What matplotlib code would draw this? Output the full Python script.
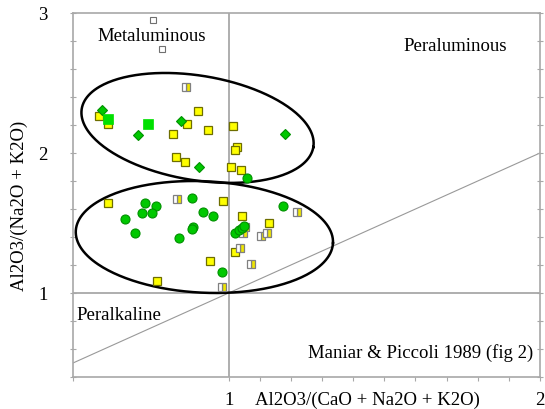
import matplotlib
matplotlib.use("Agg")
import matplotlib.pyplot as plt
import numpy as np

plt.rcParams['font.family'] = ['Liberation Serif', 'DejaVu Serif']

# yellow squares
yel_x = [0.584, 0.611, 0.820, 0.866, 0.831, 0.861, 0.903, 0.933, 1.015, 1.026,
         1.019, 1.008, 1.039, 0.614, 0.982, 1.044, 1.128, 1.021, 0.939, 0.771]
yel_y = [2.264, 2.205, 2.134, 2.206, 1.969, 1.934, 2.300, 2.163, 2.193, 2.046,
         2.021, 1.898, 1.879, 1.645, 1.657, 1.552, 1.502, 1.291, 1.226, 1.088]

# half yellow / white squares
half_x = [0.864, 0.833, 1.221, 1.045, 1.053, 1.105, 1.123, 1.037, 1.072, 0.977]
half_y = [2.469, 1.671, 1.576, 1.431, 1.474, 1.407, 1.426, 1.319, 1.207, 1.045]

# hollow squares
hol_x = [0.756, 0.785]
hol_y = [2.950, 2.743]

# green diamonds
dia_x = [0.593, 0.710, 0.848, 1.182, 0.904]
dia_y = [2.304, 2.131, 2.229, 2.138, 1.898]

# green squares
gsq_x = [0.611, 0.741]
gsq_y = [2.243, 2.205]

# green circles
cir_x = [1.059, 0.730, 0.765, 0.755, 0.723, 0.668, 0.700, 0.883, 0.916, 0.949,
         0.887, 0.881, 0.842, 1.176, 1.021, 1.032, 1.043, 1.048, 0.977]
cir_y = [1.824, 1.645, 1.618, 1.574, 1.569, 1.526, 1.426, 1.682, 1.579, 1.550,
         1.469, 1.457, 1.391, 1.621, 1.431, 1.450, 1.466, 1.479, 1.150]

xmin, xmax = 0.5, 2.0
ymin, ymax = 0.4, 3.0

fig = plt.figure(figsize=(5.45, 4.09), dpi=100)
ax = fig.add_axes([73 / 545, 32 / 409, 467 / 545, 364 / 409])
ax.set_xlim(xmin, xmax)
ax.set_ylim(ymin, ymax)

gray = '#a8a8a8'
for s in ax.spines.values():
    s.set_color(gray)
    s.set_linewidth(1.2)

# reference lines
ax.axvline(1, color=gray, lw=1.3, zorder=1)
ax.axhline(1, color=gray, lw=1.3, zorder=1)
ax.plot([xmin, xmax], [xmin, xmax], color='#999999', lw=0.8, zorder=1)

# ellipses (center x, center y, semi axes in x / y units, angle on screen)
W = fig.get_size_inches()[0] * fig.dpi * 467 / 545
H = fig.get_size_inches()[1] * fig.dpi * 364 / 409
sx = W / (xmax - xmin)
sy = H / (ymax - ymin)
t = np.linspace(0, 2 * np.pi, 300)
for cx, cy, ra, rb, ang in [(0.900, 2.179, 0.377, 0.373, -9.4),
                            (0.922, 1.400, 0.4135, 0.398, -2.7)]:
    th = np.radians(ang)
    u = ra * sx * np.cos(t)
    v = rb * sy * np.sin(t)
    X = u * np.cos(th) - v * np.sin(th)
    Y = u * np.sin(th) + v * np.cos(th)
    ax.plot(cx + X / sx, cy + Y / sy, color='black', lw=1.8, zorder=2)

ax.plot(yel_x, yel_y, 's', ms=6, mfc='#ffff00', mec='#6e6e00', mew=0.9, ls='none', zorder=3)
ax.plot(half_x, half_y, 's', ms=6, mfc='#f0e600', mfcalt='white', fillstyle='right',
        mec='#808080', mew=0.9, ls='none', zorder=3)
ax.plot(hol_x, hol_y, 's', ms=5, mfc='white', mec='#707070', mew=0.8, ls='none', zorder=3)
ax.plot(dia_x, dia_y, 'D', ms=5.5, mfc='#00c800', mec='#009000', mew=0.8, ls='none', zorder=3)
ax.plot(gsq_x, gsq_y, 's', ms=6.5, mfc='#00e000', mec='#00e000', mew=0.5, ls='none', zorder=3)
ax.plot(cir_x, cir_y, 'o', ms=6.5, mfc='#00c800', mec='#009000', mew=0.8, ls='none', zorder=3)

fs = 13.5
ax.text(0.577, 2.83, 'Metaluminous', fontsize=fs, va='center')
ax.text(1.561, 2.764, 'Peraluminous', fontsize=fs, va='center')
ax.text(0.51, 0.836, 'Peralkaline', fontsize=fs, va='center')
ax.text(1.979, 0.571, 'Maniar & Piccoli 1989 (fig 2)', fontsize=fs, va='center', ha='right')

xt = [0.5] + list(np.round(np.arange(1.0, 2.01, 0.1), 1))
ax.set_xticks(xt)
ax.set_xticklabels(['1' if v == 1.0 else '2' if v == 2.0 else '' for v in xt])
yt = list(np.round(np.arange(0.4, 3.01, 0.2), 1))
ax.set_yticks(yt)
ax.set_yticklabels(['1' if v == 1.0 else '2' if v == 2.0 else '3' if v == 3.0 else '' for v in yt])
ax.tick_params(axis='x', direction='out', length=3, color=gray, labelsize=fs, pad=8)
ax.tick_params(axis='y', direction='inout', length=5, color=gray, labelsize=fs, pad=16,
               right=True)

ax.set_xlabel('Al2O3/(CaO + Na2O + K2O)', fontsize=fs, va='center')
ax.xaxis.set_label_coords(0.63, -0.063)
ax.set_ylabel('Al2O3/(Na2O + K2O)', fontsize=fs, va='center')
ax.yaxis.set_label_coords(-0.115, 0.47)

fig.savefig('out.png', dpi=100)
